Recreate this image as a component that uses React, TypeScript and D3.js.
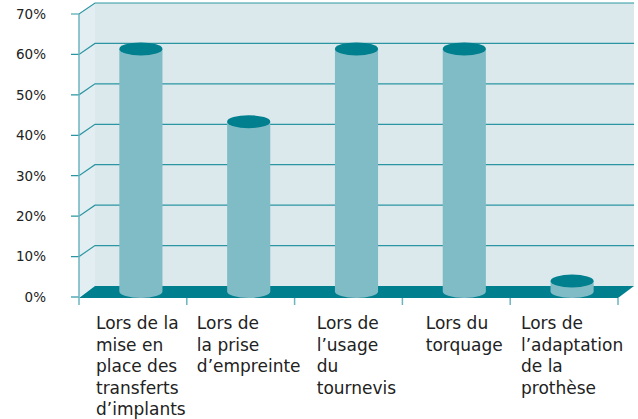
import * as d3 from 'd3';
import React, { useRef, useEffect } from 'react';

const categories = ['c1', 'c2', 'c3', 'c4', 'c5'];
const labels = [
  ['Lors de la', 'mise en', 'place des', 'transferts', 'd’implants'],
  ['Lors de', 'la prise', 'd’empreinte'],
  ['Lors de', 'l’usage', 'du', 'tournevis'],
  ['Lors du', 'torquage'],
  ['Lors de', 'l’adaptation', 'de la', 'prothèse'],
];
const values = [60, 42, 60, 60, 2.6];
const yTicks = [0, 10, 20, 30, 40, 50, 60, 70];

const W = 638, H = 419;

function App() {
  const ref = useRef<SVGSVGElement>(null);

  useEffect(() => {
    const svg = d3.select(ref.current);
    svg.selectAll('*').remove();

    const dx = 16, dy = -11;
    const x = d3.scaleBand().domain(categories).range([79, 618]);
    const y = d3.scaleLinear().domain([0, 70]).range([297, 14]);
    const bw = x.bandwidth();
    const rx = bw * 0.2, ry = 6.5;

    const wallCol = '#dbe9ed';
    const gridCol = '#2b95a2';
    const dark = '#007f8e';
    const light = '#7fbcc6';

    // back wall
    svg.append('rect')
      .attr('x', 79 + dx).attr('y', y(70) + dy)
      .attr('width', 618 - 79).attr('height', y(0) - y(70))
      .attr('fill', wallCol);
    // left wall
    svg.append('polygon')
      .attr('points', [[79, y(70)], [79 + dx, y(70) + dy], [79 + dx, y(0) + dy], [79, y(0)]].map(p => p.join(',')).join(' '))
      .attr('fill', '#e2eef1');

    // grid lines
    yTicks.forEach(t => {
      if (t === 0) return;
      svg.append('path')
        .attr('d', `M71,${y(t)}L79,${y(t)}L${79 + dx},${y(t) + dy}L${618 + dx},${y(t) + dy}`)
        .attr('fill', 'none').attr('stroke', gridCol).attr('stroke-width', 1.2);
    });
    svg.append('line')
      .attr('x1', 71).attr('x2', 79).attr('y1', y(0)).attr('y2', y(0))
      .attr('stroke', gridCol).attr('stroke-width', 1.2);

    // floor
    svg.append('polygon')
      .attr('points', [[79, y(0) + 1], [79 + dx, y(0) + dy], [618 + dx, y(0) + dy], [618, y(0) + 1]].map(p => p.join(',')).join(' '))
      .attr('fill', dark);

    // left axis line
    svg.append('line')
      .attr('x1', 79).attr('x2', 79).attr('y1', y(70)).attr('y2', y(0) + 1)
      .attr('stroke', '#6cb5bf').attr('stroke-width', 1.5);

    // x ticks
    const bounds = categories.map(c => x(c)!).concat([618]);
    bounds.forEach(b => {
      svg.append('line')
        .attr('x1', b).attr('x2', b).attr('y1', y(0) + 1).attr('y2', y(0) + 8)
        .attr('stroke', '#6cb5bf').attr('stroke-width', 1.5);
    });

    // cylinders
    categories.forEach((c, i) => {
      const cx = x(c)! + bw / 2 + dx / 2;
      const base = y(0) + dy / 2;
      const top = y(values[i]) + dy / 2;
      svg.append('path')
        .attr('d', `M${cx - rx},${top}L${cx - rx},${base}A${rx},${ry} 0 0 0 ${cx + rx},${base}L${cx + rx},${top}Z`)
        .attr('fill', light);
      svg.append('ellipse')
        .attr('cx', cx).attr('cy', top).attr('rx', rx).attr('ry', ry)
        .attr('fill', dark);
    });

    // y labels
    svg.append('g').selectAll('text').data(yTicks).join('text')
      .attr('x', 46).attr('y', d => y(d) + 4.9)
      .attr('text-anchor', 'end')
      .attr('font-family', 'DejaVu Sans').attr('font-size', 13.5)
      .attr('fill', '#222')
      .text(d => d + '%');

    // x labels, left-aligned block centred under each cylinder
    categories.forEach((c, i) => {
      const cx = x(c)! + bw / 2 + dx / 2;
      const t = svg.append('text')
        .attr('font-family', 'DejaVu Sans').attr('font-size', 17)
        .attr('fill', '#222');
      labels[i].forEach((l, j) => {
        t.append('tspan').attr('x', 0).attr('y', 329 + j * 21.5).text(l);
      });
      const w = (t.node() as SVGTextElement).getBBox().width;
      t.selectAll('tspan').attr('x', cx - w / 2);
    });
  }, []);

  return (
    <svg ref={ref} width={W} height={H} style={{ position: 'absolute', left: 0, top: 0, background: '#fff' }} />
  );
}

export default App;
